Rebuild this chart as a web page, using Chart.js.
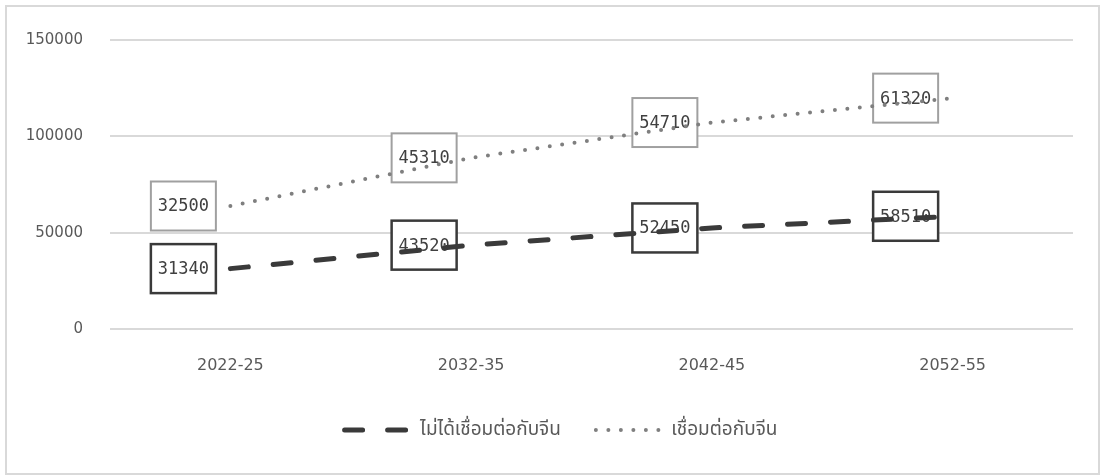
<!DOCTYPE html>
<html>
<head>
<meta charset="utf-8">
<script src="https://cdn.jsdelivr.net/npm/chart.js@4/dist/chart.umd.min.js"></script>
<style>
  html, body { margin: 0; padding: 0; background: #ffffff; }
  #wrap { width: 1101px; height: 475px; }
</style>
</head>
<body>
<div id="wrap"><canvas id="chart" width="1101" height="475"></canvas></div>
<script>
// Periods on the horizontal axis
const categories = ['2022-25', '2032-35', '2042-45', '2052-55'];
// Series values (the second series is stacked on top of the first)
const notConnected = [31340, 43520, 52450, 58510];
const connected = [32500, 45310, 54710, 61320];
// Series names shown in the legend
const seriesNames = ['ไม่ได้เชื่อมต่อกับจีน', 'เชื่อมต่อกับจีน'];
// Value axis ticks
const yTicks = [0, 50000, 100000, 150000];

const TEXT = '#595959';
const GRID = '#d9d9d9';
const SANS = '"DejaVu Sans", "Noto Sans", "Noto Sans Thai", Loma, Garuda, sans-serif';
const MONO = '"DejaVu Sans Mono", "Liberation Mono", monospace';

// Boxed value labels, placed to the left of each point
const valueBoxes = {
  id: 'valueBoxes',
  beforeDatasetsDraw(chart) {
    const ctx = chart.ctx;
    const boxW = 65, boxH = 49, shift = 47;
    chart.data.datasets.forEach((ds, di) => {
      const meta = chart.getDatasetMeta(di);
      meta.data.forEach((pt, i) => {
        const cx = pt.x - shift, cy = pt.y;
        ctx.save();
        ctx.fillStyle = '#ffffff';
        ctx.fillRect(cx - boxW / 2, cy - boxH / 2, boxW, boxH);
        ctx.lineWidth = ds.boxLineWidth;
        ctx.strokeStyle = ds.boxColor;
        ctx.strokeRect(cx - boxW / 2, cy - boxH / 2, boxW, boxH);
        ctx.fillStyle = '#404040';
        ctx.font = '17px ' + MONO;
        ctx.textAlign = 'center';
        ctx.textBaseline = 'middle';
        ctx.fillText(String(ds.data[i]), cx, cy + 1);
        ctx.restore();
      });
    });
  }
};

// Outer frame and legend placement
const frame = {
  id: 'frame',
  afterLayout(chart) {
    chart.legend.left += 49;
  },
  beforeDraw(chart) {
    const ctx = chart.ctx;
    ctx.save();
    ctx.fillStyle = '#ffffff';
    ctx.fillRect(0, 0, chart.width, chart.height);
    ctx.strokeStyle = GRID;
    ctx.lineWidth = 2;
    ctx.strokeRect(6, 6, 1093, 468);
    ctx.restore();
  }
};

new Chart(document.getElementById('chart'), {
  type: 'line',
  data: {
    labels: categories,
    datasets: [
      {
        label: seriesNames[0],
        data: notConnected,
        borderColor: '#3a3a3a',
        backgroundColor: '#3a3a3a',
        borderWidth: 5,
        borderDash: [18, 25],
        borderCapStyle: 'round',
        pointRadius: 0,
        fill: false,
        tension: 0,
        boxColor: '#3a3a3a',
        boxLineWidth: 2.5
      },
      {
        label: seriesNames[1],
        data: connected,
        borderColor: '#7f7f7f',
        backgroundColor: '#7f7f7f',
        borderWidth: 4,
        borderDash: [0, 12.5],
        borderCapStyle: 'round',
        pointRadius: 0,
        fill: false,
        tension: 0,
        boxColor: '#a0a0a0',
        boxLineWidth: 2
      }
    ]
  },
  options: {
    responsive: false,
    animation: false,
    layout: { padding: { left: 0, right: 28, top: 40, bottom: 25.5 } },
    plugins: {
      legend: {
        position: 'bottom',
        labels: {
          usePointStyle: true,
          pointStyleWidth: 66,
          boxHeight: 16,
          padding: 35,
          color: TEXT,
          font: { family: SANS, size: 19 },
          generateLabels(chart) {
            return chart.data.datasets.map((ds, i) => ({
              text: ds.label,
              datasetIndex: i,
              hidden: false,
              pointStyle: 'line',
              fillStyle: ds.borderColor,
              strokeStyle: ds.borderColor,
              lineWidth: ds.borderWidth,
              lineDash: ds.borderDash,
              lineCap: ds.borderCapStyle,
              fontColor: TEXT
            }));
          }
        }
      },
      tooltip: { enabled: false }
    },
    scales: {
      x: {
        offset: true,
        grid: { display: false, drawTicks: false },
        border: { display: false },
        ticks: { color: TEXT, font: { family: SANS, size: 16 }, padding: 27, maxRotation: 0 },
        afterFit(s) { s.height = 56.5; }
      },
      y: {
        stacked: true,
        min: 0,
        max: 150000,
        grid: { color: GRID, lineWidth: 2, drawTicks: false },
        border: { display: false },
        ticks: {
          color: TEXT,
          font: { family: SANS, size: 15 },
          padding: 27,
          callback: v => String(v)
        },
        afterBuildTicks(s) { s.ticks = yTicks.map(v => ({ value: v })); },
        afterFit(s) { s.width = 110; }
      }
    }
  },
  plugins: [valueBoxes, frame]
});
</script>
</body>
</html>
